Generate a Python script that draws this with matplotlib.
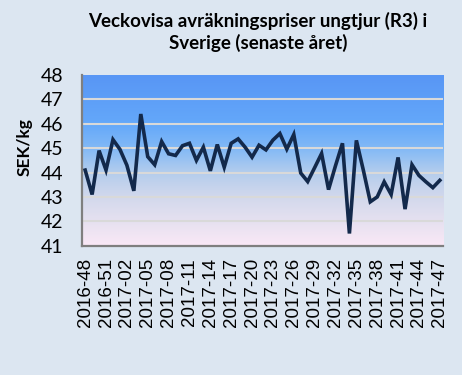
import matplotlib
matplotlib.use("Agg")
import matplotlib.pyplot as plt
import numpy as np
from matplotlib.colors import LinearSegmentedColormap

# ---- data ----
weeks = (["2016-%02d" % w for w in range(48, 53)] +
         ["2017-%02d" % w for w in range(1, 48)])
prices = [44.10, 43.10, 44.90, 44.10, 45.35, 44.95, 44.30, 43.25, 46.40, 44.65,
          44.32, 45.27, 44.77, 44.70, 45.10, 45.20, 44.50, 45.04, 44.07, 45.15,
          44.22, 45.20, 45.38, 45.04, 44.63, 45.12, 44.93, 45.33, 45.60, 44.96,
          45.56, 43.98, 43.63, 44.20, 44.78, 43.30, 44.28, 45.20, 41.50, 45.32,
          44.10, 42.80, 43.00, 43.62, 43.10, 44.62, 42.50, 44.32, 43.88, 43.62,
          43.38, 43.68]
yticks = [41, 42, 43, 44, 45, 46, 47, 48]
title = "Veckovisa avräkningspriser ungtjur (R3) i\nSverige (senaste året)"
ylabel = "SEK/kg"

bg = "#dce6f1"
fig = plt.figure(figsize=(4.62, 3.75), dpi=100, facecolor=bg)
ax = fig.add_axes([0.1768, 0.3448, 0.9595 - 0.1768, 0.8 - 0.3448])
ax.set_facecolor("none")

# gradient background of plot area
grad_cmap = LinearSegmentedColormap.from_list("g", [
    (0.0, (250/255, 232/255, 246/255)),
    (1/7, (230/255, 225/255, 240/255)),
    (2/7, (210/255, 216/255, 236/255)),
    (3/7, (180/255, 205/255, 237/255)),
    (4/7, (130/255, 185/255, 246/255)),
    (5/7, (100/255, 168/255, 250/255)),
    (1.0, (88/255, 150/255, 245/255)),
])
g = np.linspace(0, 1, 256).reshape(-1, 1)
ax.imshow(g, aspect="auto", cmap=grad_cmap, origin="lower",
          extent=[0, 1, 0, 1], transform=ax.transAxes, zorder=0)

x = np.arange(len(prices))
ax.plot(x, prices, color="#13294b", lw=2.6, zorder=3, solid_joinstyle="miter")

ax.set_xlim(-0.5, len(prices) - 0.5)
ax.set_ylim(41, 48)
ax.set_yticks(yticks)
ax.set_yticklabels([str(v) for v in yticks], family="Lato", fontsize=14)
for v in yticks[1:-1]:
    ax.axhline(v, color="#d9d9d9", lw=1.5, zorder=1)

ax.set_xticks(x[::3])
ax.set_xticklabels(weeks[::3], rotation=90, family="Liberation Sans", fontsize=13.5)
ax.tick_params(length=0)
ax.tick_params(axis="x", pad=9)
ax.tick_params(axis="y", pad=13)

for s in ["top", "right"]:
    ax.spines[s].set_visible(False)
for s in ["left", "bottom"]:
    ax.spines[s].set_color("#7f7f7f")
    ax.spines[s].set_linewidth(1.6)

fig.text(25/462, 1 - 147/375, ylabel, rotation=90, fontsize=12.5, fontweight="bold",
         family="Lato", ha="center", va="center")

fig.text(258/462, 1 - 32/375, title, ha="center", va="center", fontsize=13.5,
         fontweight="bold", family="Lato", linespacing=1.2)

fig.savefig("out.png", dpi=100, facecolor=bg)
